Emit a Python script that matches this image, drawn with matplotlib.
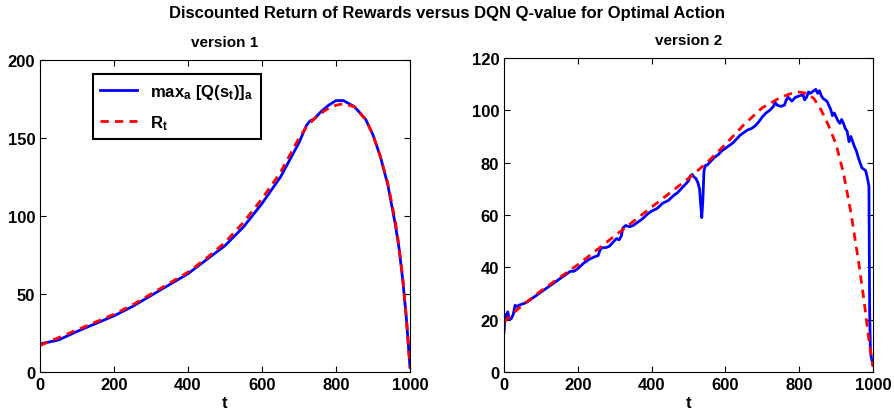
import numpy as np
import matplotlib
matplotlib.use("Agg")
import matplotlib.pyplot as plt

plt.rcParams['font.family'] = ['Liberation Sans', 'DejaVu Sans']
plt.rcParams['font.weight'] = 'bold'
plt.rcParams['mathtext.fontset'] = 'custom'
plt.rcParams['mathtext.rm'] = 'Liberation Sans:bold'
plt.rcParams['mathtext.it'] = 'Liberation Sans:bold'
plt.rcParams['mathtext.bf'] = 'Liberation Sans:bold'

# version 1
v1_q_t = [0, 50, 100, 150, 200, 250, 300, 350, 400, 450, 500, 550, 600, 650, 700,
          720, 730, 740, 760, 780, 800, 820, 850, 880, 900, 920, 940, 960, 970,
          980, 990, 1000]
v1_q = [18, 20.5, 26, 31, 36, 42, 49, 56, 63, 72, 81, 93, 108, 125, 147,
        158, 161, 162, 167, 171, 174, 174, 170, 162, 152, 138, 120, 95, 80,
        60, 35, 3]
v1_r_t = [0, 50, 100, 150, 200, 250, 300, 350, 400, 450, 500, 550, 600, 650, 700,
          720, 740, 760, 780, 800, 820, 850, 880, 900, 920, 940, 960, 970, 980,
          990, 1000]
v1_r = [17, 22, 27, 32, 37, 43, 50, 57, 64, 73, 83, 96, 111, 128, 150,
        157, 162, 166, 169, 171, 172, 170, 162, 152, 138, 121, 97, 81, 61,
        35, 3]

# version 2
v2_q_t = [0, 3, 6, 10, 15, 20, 25, 30, 35, 40, 50, 60, 70, 80, 90, 100, 120, 140,
          160, 180, 190, 200, 215, 230, 245, 255, 260, 265, 275, 285, 295, 305,
          312, 318, 322, 330, 340, 350, 360, 375, 390, 400, 415, 430, 445, 460,
          470, 480, 490, 500, 505, 510, 515, 520, 525, 530, 533, 536, 539, 542,
          546, 550, 560, 570, 580, 590, 600, 610, 620, 630, 640, 650, 660, 670,
          680, 690, 700, 710, 720, 730, 735, 740, 750, 760, 765, 770, 780, 790,
          800, 810, 815, 820, 825, 830, 840, 845, 850, 855, 860, 865, 870, 875,
          880, 885, 890, 895, 900, 905, 910, 915, 920, 925, 930, 935, 940, 945,
          950, 955, 960, 965, 970, 975, 980, 985, 989, 991, 993, 996, 1000]
v2_q = [15, 22, 21, 23, 20, 20.5, 22, 25.5, 25, 25.5, 26, 26.5, 27.5, 28.5, 29.5, 30.5,
        32.5, 34.5, 36.5, 38.5, 38.5, 39.5, 41.5, 43, 44, 44.5, 46.5, 47.5, 47.5,
        48, 49.5, 51, 50.5, 52, 55, 56, 55.5, 56, 57, 58.5, 60.5, 61.5, 62.5, 64.5,
        65.5, 67.5, 68.5, 70, 71.5, 73, 75, 75.5, 74.5, 74, 72.5, 70, 64, 59, 66,
        77, 79, 79, 80.5, 82, 83, 84.5, 85.5, 86.5, 87.5, 89, 90.5, 91.5, 92.5,
        93, 94, 95.5, 97.5, 99, 100, 101.5, 103, 102, 101.5, 102, 104, 105,
        103.5, 105, 105.5, 106, 104, 105, 107, 106.5, 107.5, 108, 106.5, 107.5,
        105.5, 104.5, 104, 103.5, 102, 100.5, 98, 99, 97.5, 96, 95, 96.5, 95,
        93, 92, 88, 90, 88, 86, 84.5, 82, 80, 78, 77.5, 77, 74, 71, 22, 8, 5, 3]
v2_r_t = [0, 25, 50, 100, 150, 200, 250, 300, 350, 400, 450, 500, 550, 600, 650,
          700, 750, 780, 800, 820, 840, 860, 880, 900, 920, 940, 960, 975, 990, 1000]
v2_r = [19, 22.5, 25.5, 31, 36, 41, 46.5, 52, 57.5, 63, 68.5, 74, 80, 87, 94.5,
        101, 105, 106.5, 107, 106.5, 104.5, 100, 94, 87, 76, 61, 43, 28, 11, 2]


def style_axes(ax, ylim, yticks, title):
    ax.set_xlim(0, 1000)
    ax.set_ylim(*ylim)
    ax.set_xticks([0, 200, 400, 600, 800, 1000])
    ax.set_yticks(yticks)
    ax.tick_params(direction='in', top=True, right=True, labelsize=12, length=4, width=0.8)
    for lab in ax.get_xticklabels() + ax.get_yticklabels():
        lab.set_fontweight('bold')
    ax.set_xlabel('t', fontsize=12, fontweight='bold', labelpad=2)
    ax.set_title(title, fontsize=11, fontweight='bold', pad=10)
    for s in ax.spines.values():
        s.set_linewidth(0.8)


fig = plt.figure(figsize=(8.95, 4.10), dpi=100)
ax1 = fig.add_axes([40 / 895, 37 / 410, 370 / 895, 312 / 410])
ax2 = fig.add_axes([504 / 895, 37 / 410, 369 / 895, 314 / 410])

dash = (0, (3, 2.2))
ax1.plot(v1_q_t, v1_q, color='#0000ff', lw=2, label=r'$\mathrm{max_a\ [Q(s_t)]_a}$')
ax1.plot(v1_r_t, v1_r, color='#ff0000', lw=2, ls=dash, label=r'$\mathrm{R_t}$')
style_axes(ax1, (0, 200), [0, 50, 100, 150, 200], 'version 1')
leg = ax1.legend(loc='upper left', bbox_to_anchor=(0.143, 0.955), borderaxespad=0,
                 fontsize=12, fancybox=False, edgecolor='black', framealpha=1,
                 handlelength=2.2, borderpad=0.45, labelspacing=0.75)
leg.get_frame().set_linewidth(1.5)

ax2.plot(v2_q_t, v2_q, color='#0000ff', lw=2)
ax2.plot(v2_r_t, v2_r, color='#ff0000', lw=2, ls=dash)
style_axes(ax2, (0, 120), [0, 20, 40, 60, 80, 100, 120], 'version 2')

fig.suptitle('Discounted Return of Rewards versus DQN Q-value for Optimal Action',
             fontsize=12, fontweight='bold', y=0.985)

fig.savefig('out.png', dpi=100)
